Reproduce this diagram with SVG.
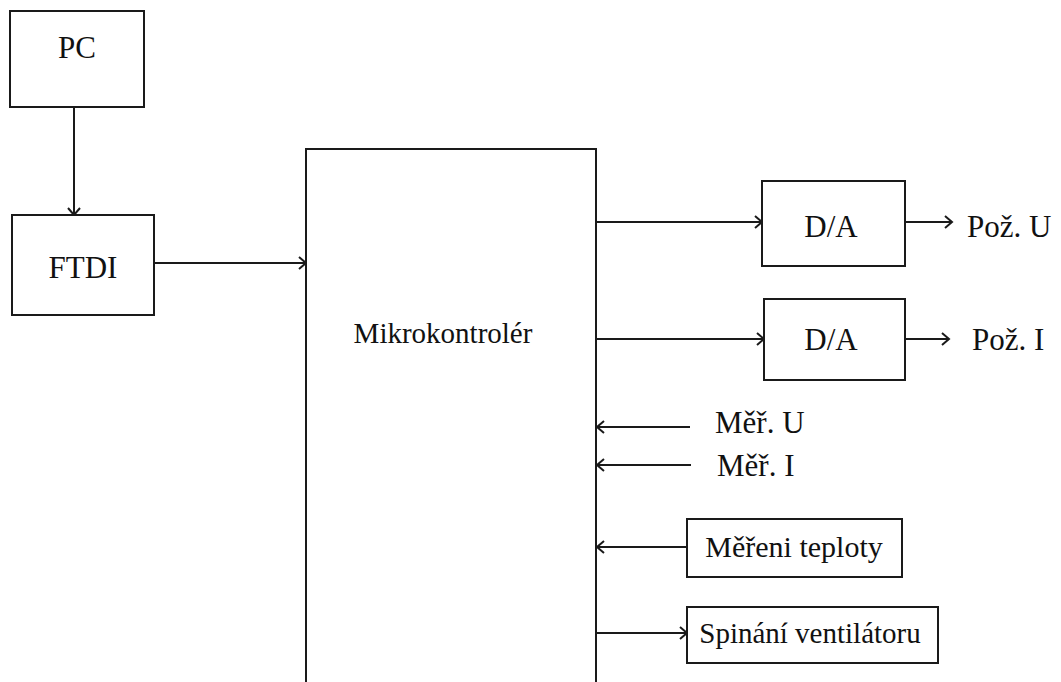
<svg xmlns="http://www.w3.org/2000/svg" width="1061" height="682" viewBox="0 0 1061 682">
<style>
.box{fill:#fff;stroke:#1a1a1a;stroke-width:2}
.ln{fill:none;stroke:#1a1a1a;stroke-width:2;marker-end:url(#ah)}
text{font-family:"Liberation Serif","Times New Roman",serif;font-size:31px;fill:#111}
.s{font-size:29px}
</style>
<defs>
<marker id="ah" markerUnits="userSpaceOnUse" markerWidth="12" markerHeight="14" refX="9" refY="7" orient="auto">
<path d="M2,1 L9,7 L2,13" fill="none" stroke="#1a1a1a" stroke-width="2"/>
</marker>
</defs>
<rect width="1061" height="682" fill="#fff"/>
<g id="connectors">
<line class="ln" x1="74" y1="107" x2="74" y2="215"/>
<line class="ln" x1="154" y1="263" x2="306" y2="263"/>
<line class="ln" x1="596" y1="222" x2="762" y2="222"/>
<line class="ln" x1="905" y1="222" x2="952" y2="222"/>
<line class="ln" x1="596" y1="339" x2="764" y2="339"/>
<line class="ln" x1="905" y1="339" x2="949" y2="339"/>
<line class="ln" x1="690" y1="427" x2="597" y2="427"/>
<line class="ln" x1="691" y1="465" x2="597" y2="465"/>
<line class="ln" x1="687" y1="547" x2="597" y2="547"/>
<line class="ln" x1="596" y1="633" x2="687" y2="633"/>
</g>
<g id="pc"><rect class="box" x="10" y="11" width="134" height="96"/><text x="77" y="58" text-anchor="middle">PC</text></g>
<g id="ftdi"><rect class="box" x="12" y="215" width="142" height="100"/><text x="83" y="278" text-anchor="middle">FTDI</text></g>
<g id="mcu"><path class="box" d="M306,690 L306,149 L596,149 L596,690"/><text class="s" x="443" y="343" text-anchor="middle">Mikrokontrolér</text></g>
<g id="da1"><rect class="box" x="762" y="181" width="143" height="85"/><text x="831" y="237" text-anchor="middle">D/A</text></g>
<g id="da2"><rect class="box" x="764" y="299" width="141" height="81"/><text x="831" y="350" text-anchor="middle">D/A</text></g>
<g id="poz-u"><text x="967" y="237">Pož. U</text></g>
<g id="poz-i"><text x="972" y="350">Pož. I</text></g>
<g id="mer-u"><text x="715" y="433">Měř. U</text></g>
<g id="mer-i"><text x="717" y="476">Měř. I</text></g>
<g id="teplota"><rect class="box" x="687" y="519" width="215" height="58"/><text x="794" y="557" text-anchor="middle" style="font-size:30px">Měřeni teploty</text></g>
<g id="ventilator"><rect class="box" x="687" y="607" width="251" height="56"/><text class="s" x="810" y="643" text-anchor="middle">Spinání ventilátoru</text></g>
</svg>
